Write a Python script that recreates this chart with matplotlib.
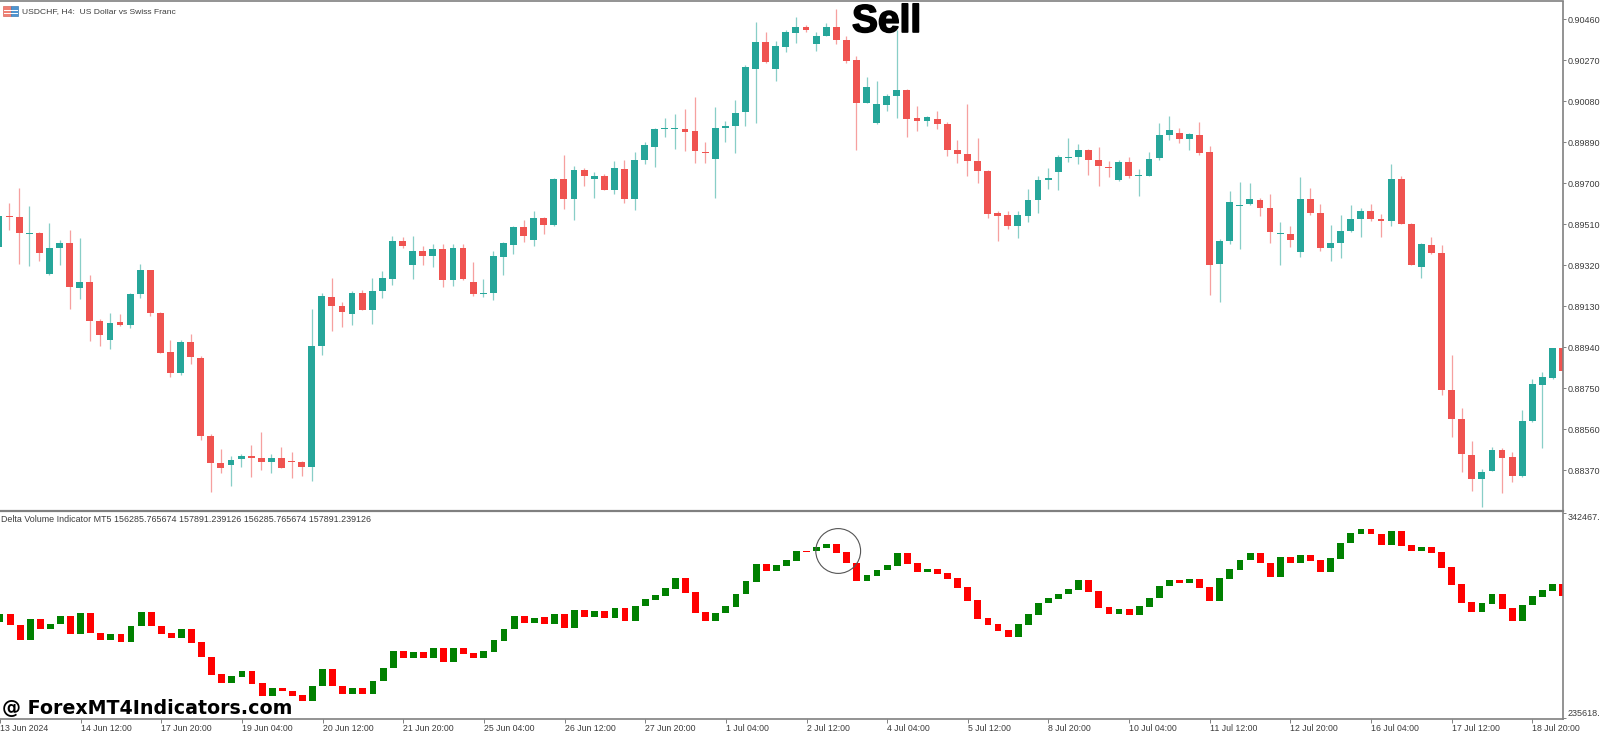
import numpy as np
import matplotlib
matplotlib.use("Agg")
import matplotlib.pyplot as plt
import matplotlib.patheffects as pe
from matplotlib.patches import Ellipse, Rectangle

# USDCHF H4, price points (1 point = 0.00001)
opens = [
    89402,89547,89544,89465,89468,89277,89397,89424,89215,89243,
    89061,88973,89054,89044,89184,89295,89096,88918,88820,88965,
    88889,88526,88404,88395,88421,88436,88427,88407,88424,88410,
    88406,88386,88945,89170,89129,89095,89189,89110,89201,89257,
    89433,89320,89386,89362,89393,89252,89400,89243,89187,89190,
    89359,89414,89498,89437,89538,89504,89717,89627,89760,89718,
    89734,89668,89763,89627,89807,89865,89952,89949,89950,89939,
    89845,89813,89955,89964,90031,90230,90353,90230,90332,90397,
    90423,90344,90383,90423,90364,90268,90069,89976,90063,90105,
    90131,90000,89987,89995,89973,89854,89833,89800,89757,89561,
    89550,89502,89549,89623,89715,89751,89817,89822,89853,89805,
    89776,89712,89797,89732,89734,89816,89921,89934,89906,89924,
    89842,89325,89432,89594,89602,89623,89583,89466,89466,89382,
    89625,89561,89401,89424,89476,89535,89569,89532,89524,89719,
    89512,89313,89412,89378,88740,88605,88441,88330,88367,88462,
    88429,88343,88599,88763,88798,88934]
highs = [
    89552,89609,89677,89593,89473,89515,89436,89482,89445,89272,
    89068,89096,89095,89189,89323,89295,89101,88971,88971,89000,
    88898,88538,88469,88433,88446,88484,88545,88444,88478,88452,
    88410,89115,89189,89260,89149,89198,89204,89258,89292,89456,
    89448,89454,89410,89419,89416,89416,89419,89334,89255,89386,
    89425,89499,89528,89570,89541,89722,89831,89777,89768,89749,
    89740,89802,89805,89842,89890,89953,90001,90020,90041,90100,
    89890,90051,89986,90085,90245,90446,90400,90360,90409,90471,
    90432,90398,90440,90506,90383,90288,90190,90173,90115,90409,
    90134,90058,90009,90035,89981,89901,90066,89910,89759,89570,
    89570,89570,89672,89731,89769,89828,89907,89881,89858,89867,
    89800,89805,89819,89763,89842,89976,90012,89954,89932,89983,
    89872,89442,89662,89705,89699,89629,89648,89521,89501,89728,
    89676,89603,89504,89551,89600,89585,89603,89557,89790,89731,
    89513,89421,89452,89412,88903,88656,88503,88373,88477,88471,
    88452,88647,88791,88825,88934,88962]
lows = [
    89402,89482,89323,89317,89339,89274,89320,89118,89163,88969,
    88946,88929,89039,89030,89169,89085,88912,88800,88812,88861,
    88511,88268,88358,88297,88382,88339,88370,88358,88379,88333,
    88344,88321,88903,89014,89031,89042,89110,89048,89169,89227,
    89400,89254,89320,89311,89218,89221,89252,89178,89172,89159,
    89274,89372,89425,89408,89464,89502,89579,89530,89686,89632,
    89666,89651,89607,89575,89790,89776,89913,89858,89848,89793,
    89793,89632,89890,89841,89966,89978,90258,90174,90305,90349,
    90400,90312,90381,90344,90256,89854,90069,89975,90034,90001,
    89913,89942,89964,89952,89827,89794,89732,89700,89539,89433,
    89488,89445,89521,89559,89672,89668,89799,89788,89737,89686,
    89728,89711,89723,89638,89731,89808,89898,89886,89855,89832,
    89183,89150,89419,89395,89598,89546,89422,89322,89402,89359,
    89554,89387,89340,89353,89473,89452,89526,89452,89500,89510,
    89322,89262,89371,88719,88525,88360,88272,88199,88366,88265,
    88315,88338,88591,88471,88791,88757]
closes = [
    89547,89543,89470,89468,89377,89397,89424,89217,89240,89061,
    88997,89053,89044,89184,89295,89096,88912,88820,88965,88892,
    88526,88404,88381,88419,88436,88427,88407,88424,88381,88406,
    88384,88943,89175,89129,89102,89189,89110,89201,89258,89433,
    89408,89386,89362,89393,89252,89400,89254,89187,89190,89360,
    89422,89498,89456,89538,89505,89717,89627,89760,89735,89734,
    89668,89769,89627,89807,89875,89950,89955,89952,89938,89850,
    89841,89955,89963,90026,90239,90353,90259,90333,90400,90423,
    90411,90383,90423,90364,90265,90069,90146,90066,90105,90131,
    89997,89987,90004,89975,89853,89833,89800,89756,89558,89549,
    89502,89550,89623,89715,89723,89822,89822,89853,89807,89777,
    89771,89797,89734,89735,89813,89921,89947,89906,89927,89841,
    89322,89433,89614,89600,89625,89585,89473,89469,89436,89625,
    89561,89401,89424,89476,89532,89569,89532,89523,89719,89512,
    89322,89416,89378,88743,88605,88443,88330,88363,88462,88428,
    88343,88599,88767,88801,88934,88831]

# Delta Volume indicator bars, in thousands
delta_open = [
    285.66,289.64,284.27,276.13,287.04,281.85,284.45,288.95,279.42,290.16,
    280.12,276.31,279.42,275.44,283.41,290.85,283.75,280.12,277.52,281.85,
    275.09,267.65,258.47,253.96,257.08,260.03,253.96,247.04,251.19,249.98,
    247.73,244.44,252.40,261.06,252.58,248.25,251.19,248.07,255.00,261.58,
    270.59,267.13,269.90,266.78,272.15,264.70,272.15,269.38,267.13,270.24,
    275.96,281.85,288.60,285.31,288.08,284.79,289.82,282.71,291.89,288.26,
    291.20,287.91,293.11,286.35,293.80,297.09,299.34,302.98,308.35,301.07,
    290.85,286.35,290.16,293.45,300.03,306.62,315.80,312.16,314.76,317.35,
    322.72,322.38,324.28,326.19,322.03,316.49,307.14,309.73,312.50,314.76,
    321.34,316.14,311.81,313.20,311.12,308.35,303.67,297.09,287.56,284.45,
    281.33,278.04,284.10,289.47,295.36,297.78,300.03,302.29,307.31,301.77,
    293.45,289.82,292.24,289.30,293.45,297.96,304.19,307.48,305.75,307.83,
    303.67,296.57,308.17,312.68,317.70,321.68,316.49,309.21,319.61,316.49,
    320.30,317.70,311.81,318.57,326.53,331.38,333.81,331.38,325.67,332.77,
    325.49,322.38,324.46,322.03,314.06,305.40,295.88,291.03,295.18,300.03,
    292.76,286.35,294.49,298.65,301.94,305.58]
delta_close = [
    289.64,284.10,276.13,287.04,281.85,284.62,288.95,279.42,290.16,279.94,
    276.31,279.42,275.44,283.75,290.85,283.41,279.60,277.35,281.85,274.92,
    267.30,258.12,253.96,257.43,260.03,253.62,247.04,251.19,249.63,247.38,
    244.44,252.58,261.06,252.23,248.42,251.19,248.07,255.18,261.76,270.59,
    267.13,269.90,266.78,272.15,264.70,272.15,269.03,267.13,270.59,276.13,
    282.02,288.60,285.31,287.91,284.62,289.82,282.71,291.89,288.26,291.20,
    287.91,293.11,286.35,294.15,297.44,299.69,303.33,308.35,300.73,290.51,
    286.35,290.51,293.80,300.38,306.96,315.80,312.16,315.10,317.70,322.72,
    322.20,324.63,326.19,321.68,316.14,307.14,310.08,312.85,315.10,321.34,
    315.80,311.81,313.20,310.77,308.00,303.33,296.74,287.22,284.10,280.98,
    278.04,284.45,289.82,295.70,298.13,300.38,302.63,307.31,301.42,293.11,
    289.82,292.24,289.30,293.80,298.30,304.54,307.48,305.75,307.83,303.50,
    296.57,308.52,313.02,318.05,321.68,316.14,309.21,319.61,316.49,320.30,
    317.35,311.81,318.91,326.88,331.73,333.81,331.21,325.67,332.77,325.32,
    322.38,324.46,321.68,313.72,305.06,295.53,291.03,295.36,300.03,292.59,
    286.35,294.67,299.00,302.29,305.58,299.17]

price_ticks = ["0.88370", "0.88560", "0.88750", "0.88940", "0.89130", "0.89320",
               "0.89510", "0.89700", "0.89890", "0.90080", "0.90270", "0.90460"]
delta_ticks = [235618, 342467]
time_labels = ["13 Jun 2024", "14 Jun 12:00", "17 Jun 20:00", "19 Jun 04:00", "20 Jun 12:00",
               "21 Jun 20:00", "25 Jun 04:00", "26 Jun 12:00", "27 Jun 20:00", "1 Jul 04:00",
               "2 Jul 12:00", "4 Jul 04:00", "5 Jul 12:00", "8 Jul 20:00", "10 Jul 04:00",
               "11 Jul 12:00", "12 Jul 20:00", "16 Jul 04:00", "17 Jul 12:00", "18 Jul 20:00"]

W, H = 1600, 732
FONT = "Liberation Sans"
TEXT = "#3c3c3c"
GRID = "#808080"
plt.rcParams["font.family"] = FONT


def pane(left, top, right, bottom):
    # axes from pixel edges of the screenshot
    return fig.add_axes([left / W, 1 - bottom / H, (right - left) / W, (bottom - top) / H])


def style_axis(ax):
    for side in ["left", "top", "bottom"]:
        ax.spines[side].set_visible(False)
    ax.spines["right"].set_color(GRID)
    ax.spines["right"].set_linewidth(1.2)
    ax.yaxis.tick_right()
    ax.tick_params(axis="y", length=2.2, width=0.7, color=GRID, pad=0.8,
                   labelsize=6.5, labelcolor=TEXT)
    ax.set_xlim(0.1, 155.04)


fig = plt.figure(figsize=(W / 100, H / 100), dpi=100, facecolor="white")
x = np.arange(len(opens))
opens_p = np.array(opens) / 1e5
highs_p = np.array(highs) / 1e5
lows_p = np.array(lows) / 1e5
closes_p = np.array(closes) / 1e5

# price candles
ax = pane(0, 2, 1563, 510)
up = closes_p >= opens_p
colors = np.where(up, "#26a69a", "#ef5350")
ax.vlines(x, lows_p, highs_p, colors=colors, linewidth=0.9, alpha=0.55)
body = np.maximum(np.abs(closes_p - opens_p), 0.00004)
ax.bar(x, body, bottom=np.minimum(opens_p, closes_p), width=0.68, color=colors, linewidth=0)
ax.set_ylim(0.88185, 0.90539)
ax.set_yticks([float(t) for t in price_ticks], price_ticks)
ax.set_xticks([])
style_axis(ax)

# delta volume bars
ax2 = pane(0, 512, 1563, 719)
d_open = np.array(delta_open) * 1000
d_close = np.array(delta_close) * 1000
d_colors = np.where(d_close >= d_open, "#008000", "#ff0000")
d_body = np.maximum(np.abs(d_close - d_open), 600)
ax2.bar(x, d_body, bottom=np.minimum(d_open, d_close), width=0.68, color=d_colors, linewidth=0)
ax2.set_ylim(235260, 342810)
ax2.set_yticks(delta_ticks, ["235618.", "342467."])
style_axis(ax2)
ax2.get_yticklabels()[0].set_va("bottom")
ax2.get_yticklabels()[1].set_va("top")
ax2.spines["bottom"].set_visible(True)
ax2.spines["bottom"].set_color(GRID)
ax2.spines["bottom"].set_linewidth(1.2)
ax2.set_xticks(x[::8], time_labels, ha="left")
ax2.tick_params(axis="x", length=3, width=0.7, color=GRID, pad=0.8, labelsize=6.3, labelcolor=TEXT)

# frame lines of the terminal window
fig.add_artist(plt.Line2D([0, 1563 / W], [1 - 1 / H, 1 - 1 / H], color=GRID, linewidth=1.2))
fig.add_artist(plt.Line2D([0, 1563 / W], [1 - 511 / H, 1 - 511 / H], color=GRID, linewidth=1.6))

# texts on the panes
fig.text(22 / W, 1 - 12 / H, "USDCHF, H4:  US Dollar vs Swiss Franc", fontsize=6.1,
         color=TEXT, va="center")
fig.text(1 / W, 1 - 520 / H, "Delta Volume Indicator MT5 156285.765674 157891.239126 "
         "156285.765674 157891.239126", fontsize=6.4, color=TEXT, va="center")
fig.text(852 / W, 1 - 32 / H, "Sell", fontsize=28, fontweight="bold", color="black",
         va="baseline", path_effects=[pe.withStroke(linewidth=1.2, foreground="black")])
fig.text(2 / W, 1 - 714 / H, "@ ForexMT4Indicators.com", fontsize=13.7, fontweight="bold",
         family="DejaVu Sans", color="black", va="baseline")

# symbol icon next to the title
fig.add_artist(Rectangle((3 / W, 1 - 16 / H), 8 / W, 10 / H, facecolor="#ef7f73", edgecolor="#d9695f", linewidth=0.5))
fig.add_artist(Rectangle((11 / W, 1 - 16 / H), 7 / W, 10 / H, facecolor="#4f94cf", edgecolor="#3f7fb5", linewidth=0.5))
for y_px in [9.5, 12.5]:
    fig.add_artist(plt.Line2D([4 / W, 17 / W], [1 - y_px / H, 1 - y_px / H], color="white", linewidth=0.7))

# hand drawn circle around the sell signal
fig.add_artist(Ellipse((838.2 / W, 1 - 551 / H), 44.8 / W, 44.8 / H, facecolor="none",
                       edgecolor="#555555", linewidth=0.8))

fig.savefig("out.png", dpi=100)
